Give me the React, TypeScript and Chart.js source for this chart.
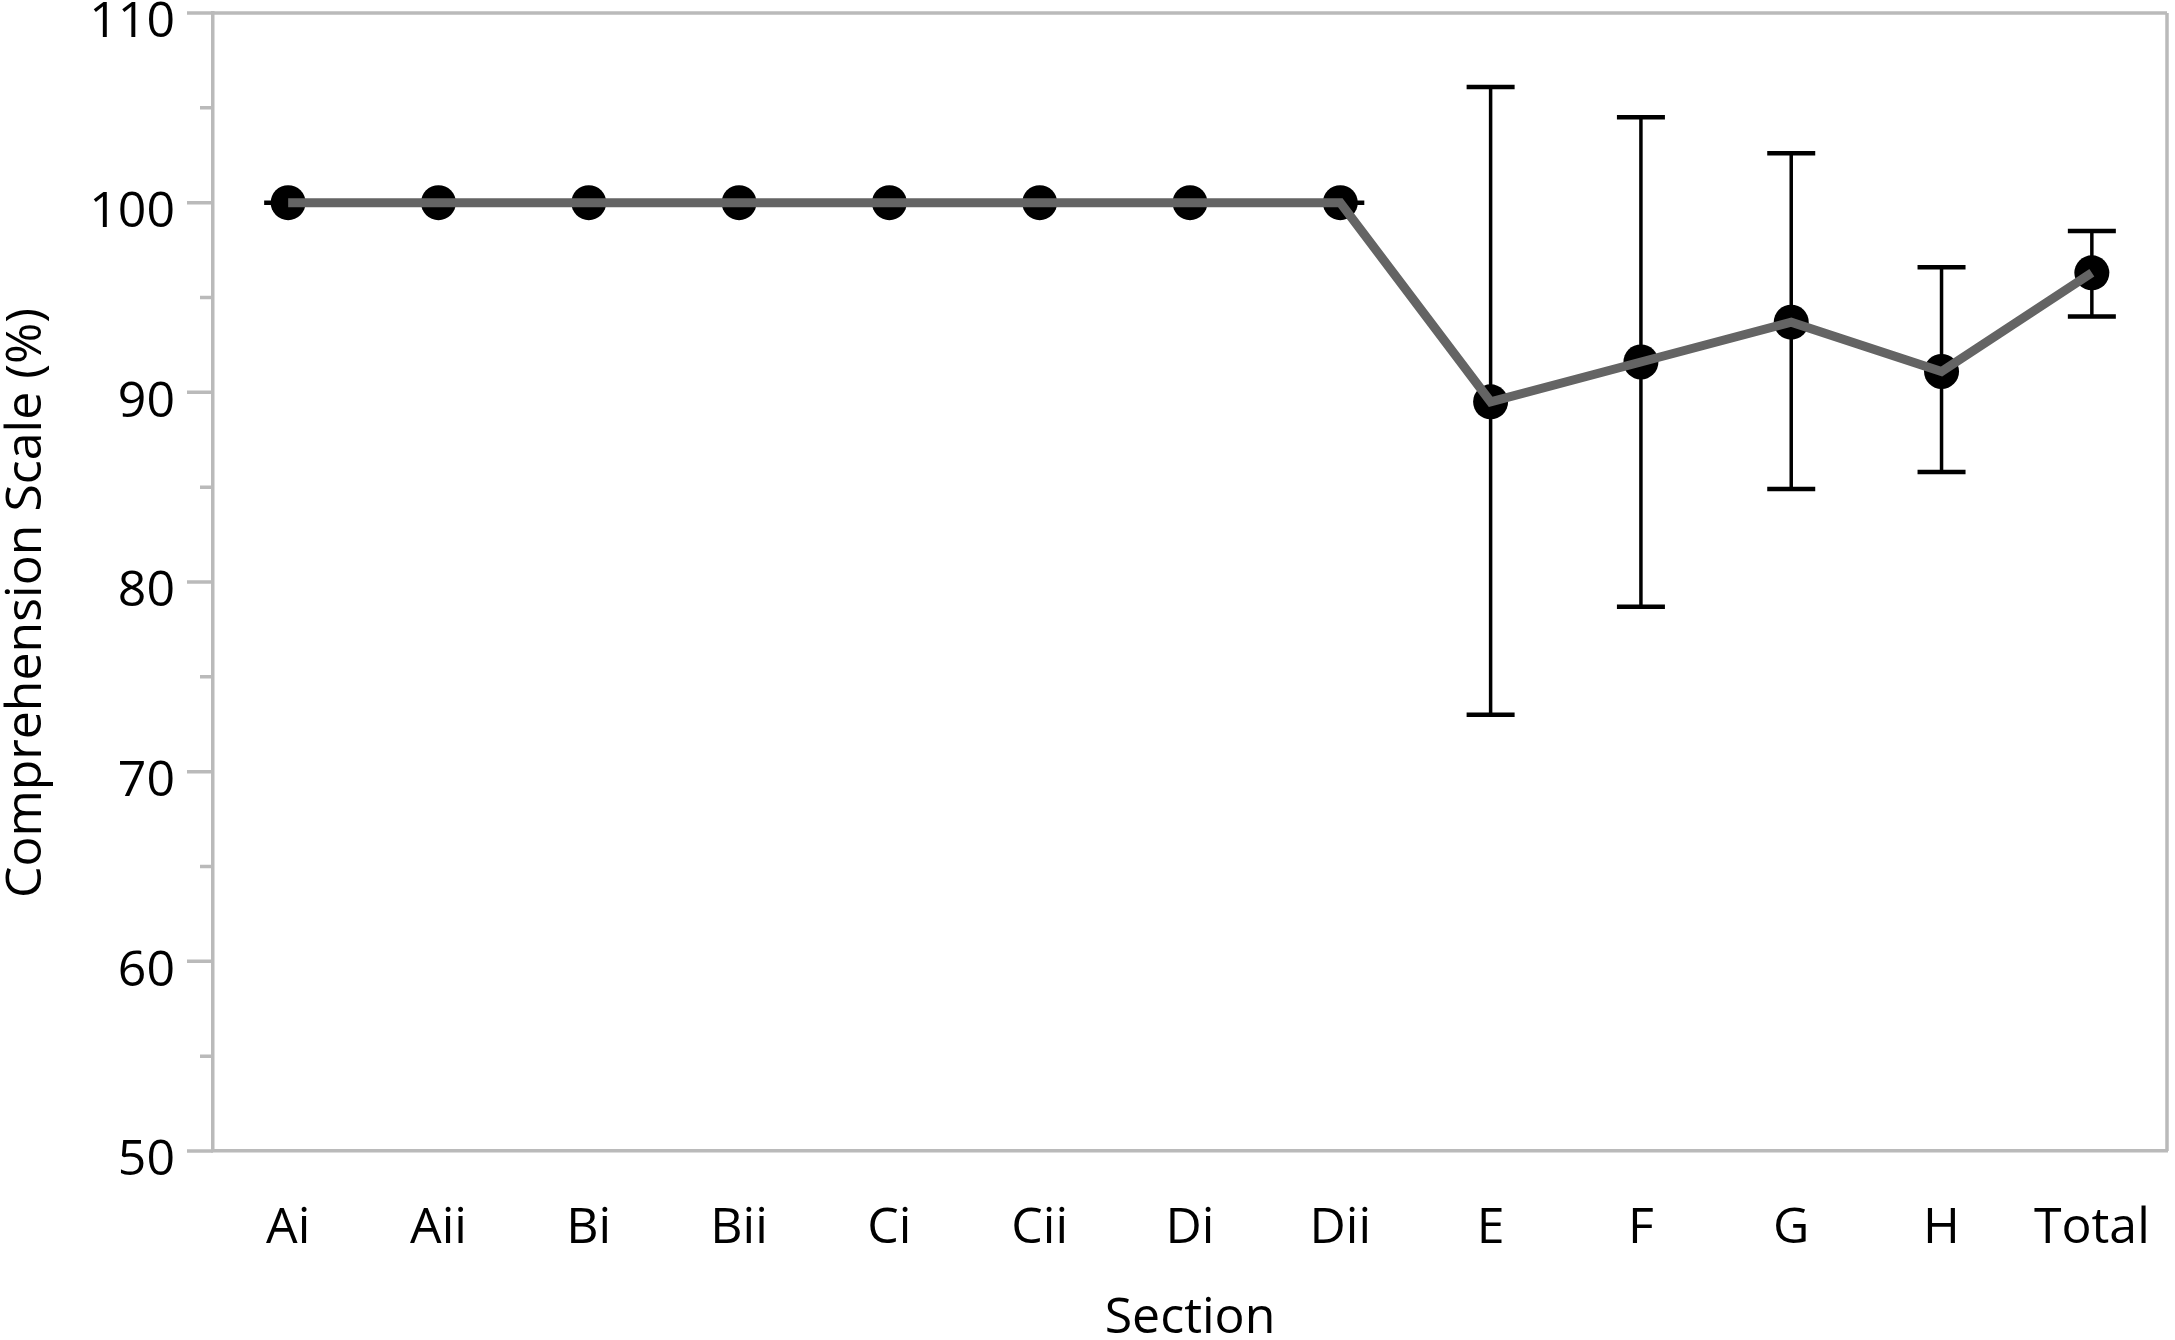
import { useEffect, useRef } from 'react';
import { Chart, registerables } from 'chart.js';

Chart.register(...registerables);

const categories = ['Ai', 'Aii', 'Bi', 'Bii', 'Ci', 'Cii', 'Di', 'Dii', 'E', 'F', 'G', 'H', 'Total'];
const means = [100, 100, 100, 100, 100, 100, 100, 100, 89.5, 91.6, 93.7, 91.1, 96.3];
const errHigh = [100, 100, 100, 100, 100, 100, 100, 100, 106.1, 104.5, 102.6, 96.6, 98.5];
const errLow = [100, 100, 100, 100, 100, 100, 100, 100, 73.0, 78.7, 84.9, 85.8, 94.0];
const minorTicks = [55, 65, 75, 85, 95, 105];
const yMin = 50;
const yMax = 110;
const yStep = 10;
const xTitle = 'Section';
const yTitle = 'Comprehension Scale (%)';

const FONT = "'Open Sans', 'Noto Sans', sans-serif";
const AXIS_COLOR = '#bababa';

const decorPlugin = {
  id: 'decor',
  beforeDatasetsDraw(chart: any) {
    const { ctx, scales } = chart;
    const xs = scales.x;
    const ys = scales.y;
    ctx.save();
    ctx.strokeStyle = '#000';
    categories.forEach((_, i) => {
      const x = xs.getPixelForValue(i);
      const yh = ys.getPixelForValue(errHigh[i]);
      const yl = ys.getPixelForValue(errLow[i]);
      ctx.lineWidth = 3.5;
      ctx.beginPath();
      ctx.moveTo(x, yh);
      ctx.lineTo(x, yl);
      ctx.stroke();
      ctx.lineWidth = 4.5;
      ctx.beginPath();
      ctx.moveTo(x - 24, yh);
      ctx.lineTo(x + 24, yh);
      ctx.moveTo(x - 24, yl);
      ctx.lineTo(x + 24, yl);
      ctx.stroke();
    });
    ctx.restore();
  },
  afterDraw(chart: any) {
    const { ctx, chartArea, scales } = chart;
    const ys = scales.y;
    ctx.save();
    ctx.strokeStyle = AXIS_COLOR;
    ctx.lineWidth = 3.5;
    ctx.beginPath();
    ctx.moveTo(chartArea.left, chartArea.top);
    ctx.lineTo(chartArea.right, chartArea.top);
    ctx.moveTo(chartArea.right, chartArea.top);
    ctx.lineTo(chartArea.right, chartArea.bottom);
    ys.ticks.forEach((t: any) => {
      const y = ys.getPixelForValue(t.value);
      ctx.moveTo(chartArea.left - 26, y);
      ctx.lineTo(chartArea.left, y);
    });
    minorTicks.forEach((v) => {
      const y = ys.getPixelForValue(v);
      ctx.moveTo(chartArea.left - 13, y);
      ctx.lineTo(chartArea.left, y);
    });
    ctx.stroke();

    // y axis title
    ctx.fillStyle = '#000';
    ctx.font = `50px ${FONT}`;
    ctx.textAlign = 'center';
    ctx.textBaseline = 'alphabetic';
    ctx.translate(41, (chartArea.top + chartArea.bottom) / 2 + 21);
    ctx.rotate(-Math.PI / 2);
    ctx.fillText(yTitle, 0, 0);
    ctx.restore();
  },
};

export default function App() {
  const canvasRef = useRef<HTMLCanvasElement | null>(null);

  useEffect(() => {
    document.body.style.margin = '0';
    const canvas = canvasRef.current;
    if (!canvas) return;
    const chart = new Chart(canvas, {
      type: 'line',
      data: {
        labels: categories,
        datasets: [
          {
            data: means,
            borderColor: '#646464',
            borderWidth: 9,
            pointRadius: 0,
            fill: false,
            tension: 0,
            order: 0,
          },
          {
            data: means,
            showLine: false,
            pointRadius: 17.5,
            pointBackgroundColor: '#000',
            pointBorderColor: '#000',
            pointBorderWidth: 0,
            order: 1,
          },
        ],
      },
      options: {
        animation: false,
        responsive: false,
        devicePixelRatio: 1,
        layout: { autoPadding: false, padding: { top: 13, right: 8, left: 0, bottom: 0 } },
        plugins: {
          legend: { display: false },
          tooltip: { enabled: false },
        },
        scales: {
          x: {
            type: 'category',
            offset: true,
            grid: { display: false, drawTicks: false },
            border: { display: true, color: AXIS_COLOR, width: 3.5 },
            ticks: {
              color: '#000',
              font: { family: FONT, size: 50 },
              padding: 48,
              maxRotation: 0,
              autoSkip: false,
            },
            title: {
              display: true,
              text: xTitle,
              color: '#000',
              font: { family: FONT, size: 50, lineHeight: 1 },
              padding: { top: 0, bottom: -4 },
            },
            afterFit(s: any) {
              s.height = 189;
              s.paddingLeft = 0;
              s.paddingRight = 0;
            },
          },
          y: {
            min: yMin,
            max: yMax,
            grid: { display: false, drawTicks: false },
            border: { display: true, color: AXIS_COLOR, width: 3.5 },
            ticks: {
              stepSize: yStep,
              color: '#000',
              font: { family: FONT, size: 50 },
              padding: 38,
              labelOffset: 10,
            },
            title: { display: false },
            afterFit(s: any) {
              s.width = 213;
              s.paddingTop = 0;
              s.paddingBottom = 0;
            },
          },
        },
      },
      plugins: [decorPlugin],
    });
    return () => chart.destroy();
  }, []);

  return (
    <div style={{ position: 'absolute', left: 0, top: 0, width: 2175, height: 1340, background: '#fff' }}>
      <canvas ref={canvasRef} width={2175} height={1340} style={{ display: 'block', width: 2175, height: 1340 }} />
    </div>
  );
}
